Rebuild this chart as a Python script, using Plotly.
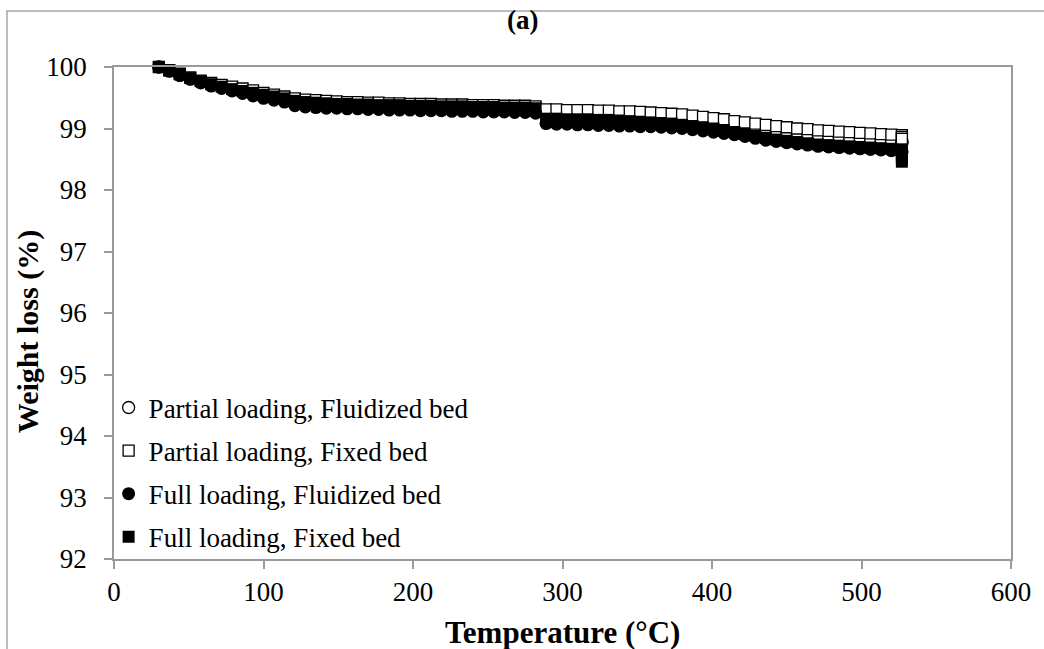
import plotly.graph_objects as go

# Temperature grid (°C) shared by the four TGA runs
temperature_c = [30, 37, 44, 51, 58, 65, 72, 79, 86, 93, 100, 107, 114, 121, 128, 135,
                 142, 149, 156, 163, 170, 177, 184, 191, 198, 205, 212, 219, 226, 233,
                 240, 247, 254, 261, 268, 275, 282, 289, 296, 303, 310, 317, 324, 331,
                 338, 345, 352, 359, 366, 373, 380, 387, 394, 401, 408, 415, 422, 429,
                 436, 443, 450, 457, 464, 471, 478, 485, 492, 499, 506, 513, 520, 527]

# Isothermal hold at the final temperature
hold_temperature_c = 527

partial_fluidized = [100.00, 99.94, 99.87, 99.81, 99.76, 99.72, 99.68, 99.65, 99.62, 99.59,
                     99.56, 99.53, 99.50, 99.47, 99.45, 99.44, 99.43, 99.42, 99.41, 99.40,
                     99.40, 99.39, 99.39, 99.38, 99.38, 99.37, 99.37, 99.37, 99.36, 99.36,
                     99.36, 99.35, 99.35, 99.35, 99.34, 99.34, 99.33, 99.25, 99.24, 99.24,
                     99.23, 99.23, 99.22, 99.22, 99.21, 99.20, 99.19, 99.18, 99.17, 99.15,
                     99.14, 99.12, 99.10, 99.08, 99.06, 99.04, 99.02, 99.00, 98.98, 98.96,
                     98.94, 98.92, 98.90, 98.89, 98.87, 98.86, 98.85, 98.84, 98.83, 98.82,
                     98.81, 98.80]
partial_fluidized_hold = [98.78, 98.76]

partial_fixed = [100.00, 99.95, 99.89, 99.83, 99.78, 99.74, 99.71, 99.68, 99.65, 99.62,
                 99.58, 99.55, 99.52, 99.49, 99.47, 99.46, 99.45, 99.44, 99.43, 99.43,
                 99.42, 99.42, 99.41, 99.41, 99.40, 99.40, 99.40, 99.39, 99.39, 99.39,
                 99.38, 99.38, 99.38, 99.37, 99.37, 99.37, 99.36, 99.31, 99.31, 99.30,
                 99.30, 99.30, 99.29, 99.29, 99.28, 99.28, 99.27, 99.26, 99.25, 99.24,
                 99.23, 99.21, 99.19, 99.17, 99.15, 99.12, 99.10, 99.08, 99.06, 99.04,
                 99.02, 99.00, 98.99, 98.97, 98.96, 98.95, 98.94, 98.93, 98.92, 98.91,
                 98.90, 98.89]
partial_fixed_hold = [98.86, 98.83]

full_fluidized = [100.00, 99.93, 99.86, 99.80, 99.74, 99.69, 99.65, 99.61, 99.57, 99.53,
                  99.49, 99.46, 99.43, 99.37, 99.35, 99.34, 99.33, 99.33, 99.32, 99.32,
                  99.31, 99.31, 99.30, 99.30, 99.30, 99.29, 99.29, 99.29, 99.28, 99.28,
                  99.28, 99.27, 99.27, 99.27, 99.26, 99.26, 99.25, 99.08, 99.07, 99.07,
                  99.06, 99.06, 99.05, 99.05, 99.04, 99.04, 99.03, 99.03, 99.02, 99.01,
                  99.00, 98.98, 98.96, 98.94, 98.92, 98.90, 98.87, 98.84, 98.81, 98.79,
                  98.77, 98.75, 98.73, 98.71, 98.70, 98.69, 98.68, 98.67, 98.66, 98.65,
                  98.64, 98.63]
full_fluidized_hold = [98.61]

full_fixed = [100.00, 99.94, 99.88, 99.82, 99.77, 99.72, 99.68, 99.64, 99.61, 99.58,
              99.55, 99.52, 99.49, 99.45, 99.43, 99.42, 99.41, 99.40, 99.40, 99.39,
              99.39, 99.38, 99.38, 99.38, 99.37, 99.37, 99.37, 99.36, 99.36, 99.36,
              99.35, 99.35, 99.35, 99.34, 99.34, 99.34, 99.33, 99.16, 99.16, 99.15,
              99.15, 99.15, 99.14, 99.14, 99.13, 99.12, 99.11, 99.10, 99.09, 99.08,
              99.06, 99.04, 99.02, 99.00, 98.97, 98.94, 98.91, 98.88, 98.85, 98.82,
              98.80, 98.78, 98.76, 98.74, 98.73, 98.72, 98.71, 98.70, 98.69, 98.68,
              98.67, 98.66]
full_fixed_hold = [98.61, 98.56, 98.51, 98.46]

x_ticks = [0, 100, 200, 300, 400, 500, 600]
y_ticks = [92, 93, 94, 95, 96, 97, 98, 99, 100]

FONT = "Liberation Serif, Times New Roman, serif"
AXIS_GREY = "#9a9a9a"

series = [
    ("Partial loading, Fluidized bed", partial_fluidized, partial_fluidized_hold,
     dict(symbol="circle", size=12, color="white", line=dict(color="black", width=1.3))),
    ("Partial loading, Fixed bed", partial_fixed, partial_fixed_hold,
     dict(symbol="square", size=11, color="white", line=dict(color="black", width=1.3))),
    ("Full loading, Fluidized bed", full_fluidized, full_fluidized_hold,
     dict(symbol="circle", size=13, color="black", line=dict(width=0))),
    ("Full loading, Fixed bed", full_fixed, full_fixed_hold,
     dict(symbol="square", size=12, color="black", line=dict(width=0))),
]

fig = go.Figure()
for i, (name, values, hold, marker) in enumerate(series):
    xs = temperature_c + [hold_temperature_c] * len(hold)
    ys = values + hold
    fig.add_trace(go.Scatter(
        x=xs, y=ys, mode="markers", name=name, marker=marker,
        cliponaxis=False, legendgroup=f"g{i}",
    ))

axis_common = dict(
    showgrid=False, zeroline=False, showline=True, linecolor=AXIS_GREY, linewidth=1.6,
    mirror=True, ticks="outside", ticklen=8, tickwidth=1.6, tickcolor=AXIS_GREY,
    tickfont=dict(family=FONT, size=27, color="black"),
)

fig.update_layout(
    width=1044, height=649,
    margin=dict(l=114, r=33, t=67, b=90),
    paper_bgcolor="white", plot_bgcolor="white",
    font=dict(family=FONT, color="black"),
    xaxis=dict(range=[0, 600], tickvals=x_ticks, ticklabelstandoff=0, **axis_common),
    yaxis=dict(range=[92, 100], tickvals=y_ticks, ticklabelstandoff=12, **axis_common),
    showlegend=True,
    legend=dict(
        x=-0.006, y=-0.005, xanchor="left", yanchor="bottom",
        bgcolor="rgba(0,0,0,0)", font=dict(family=FONT, size=27, color="black"),
        tracegroupgap=5, traceorder="grouped", itemsizing="trace",
    ),
    annotations=[
        dict(text="<b>(a)</b>", x=0.455, y=1.0955, xref="paper", yref="paper",
             showarrow=False, font=dict(family=FONT, size=27, color="black"),
             xanchor="center", yanchor="middle"),
        dict(text="<b>Temperature (°C)</b>", x=0.5, y=-0.150, xref="paper", yref="paper",
             showarrow=False, font=dict(family=FONT, size=31, color="black"),
             xanchor="center", yanchor="middle"),
        dict(text="<b>Weight loss (%)</b>", x=-0.0959, y=0.463, xref="paper", yref="paper",
             showarrow=False, textangle=-90, font=dict(family=FONT, size=30, color="black"),
             xanchor="center", yanchor="middle"),
    ],
    shapes=[
        # outer chart frame
        dict(type="rect", xref="paper", yref="paper", x0=-0.1193, x1=1.06,
             y0=-0.25, y1=1.1138, line=dict(color="#a6a6a6", width=1.5), layer="below"),
    ],
)

fig.write_html("out.html")
